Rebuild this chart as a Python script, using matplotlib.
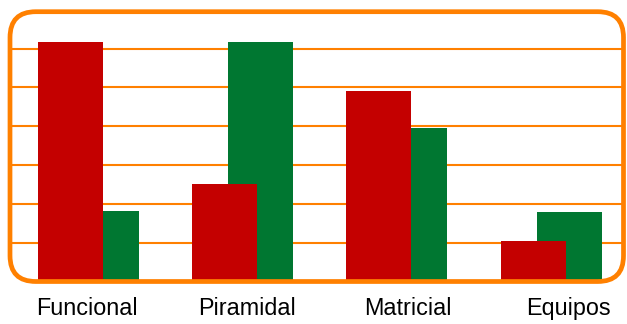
import numpy as np
import matplotlib
matplotlib.use("Agg")
import matplotlib.pyplot as plt
from matplotlib.patches import FancyBboxPatch

categories = ["Funcional", "Piramidal", "Matricial", "Equipos"]
serie_roja = [6.18, 2.5, 4.92, 1.04]
serie_verde = [1.82, 6.18, 3.95, 1.8]

ROJO = "#C40000"
VERDE = "#007731"
NARANJA = "#FF8000"

W, H = 627, 324
fig = plt.figure(figsize=(W / 100, H / 100), dpi=100)

# plot area in pixel terms
left_px, right_px = 10, 623.5
top_px, bottom_px = 11.7, 281.5
ax = fig.add_axes([left_px / W, (H - bottom_px) / H,
                   (right_px - left_px) / W, (bottom_px - top_px) / H])

x = np.arange(len(categories))
bar_w = 0.4215
offset = 0.2335

ax.bar(x + offset, serie_verde, width=bar_w, color=VERDE, zorder=2)
ax.bar(x, serie_roja, width=bar_w, color=ROJO, zorder=3)

ax.set_xlim(-0.392, 3.586)
ax.set_ylim(0, 6.95)

ax.set_yticks(range(1, 7))
ax.yaxis.grid(True, color=NARANJA, linewidth=1.5, zorder=1)
ax.set_axisbelow(True)
ax.tick_params(left=False, bottom=False, labelleft=False, labelbottom=False)
ax.set_xticks([])
for s in ax.spines.values():
    s.set_visible(False)

# rounded orange frame around the plot
aspect = (right_px - left_px) / (bottom_px - top_px)
frame = FancyBboxPatch((0, 0), 1, 1, transform=ax.transAxes,
                       boxstyle="round,pad=0,rounding_size=0.042",
                       mutation_aspect=aspect,
                       facecolor="none", edgecolor=NARANJA,
                       linewidth=3.4, zorder=5, clip_on=False)
ax.add_patch(frame)

# category labels below the frame
label_x = 0.105 + np.arange(len(categories)) * 1.042
base_y = (bottom_px - 315) / (bottom_px - top_px)
for lx, name in zip(label_x, categories):
    ax.text(lx, base_y, name, transform=ax.get_xaxis_transform(),
            ha="center", va="baseline", fontsize=16.8,
            family="Liberation Sans", color="#000000")

fig.savefig("out.png", dpi=100)
